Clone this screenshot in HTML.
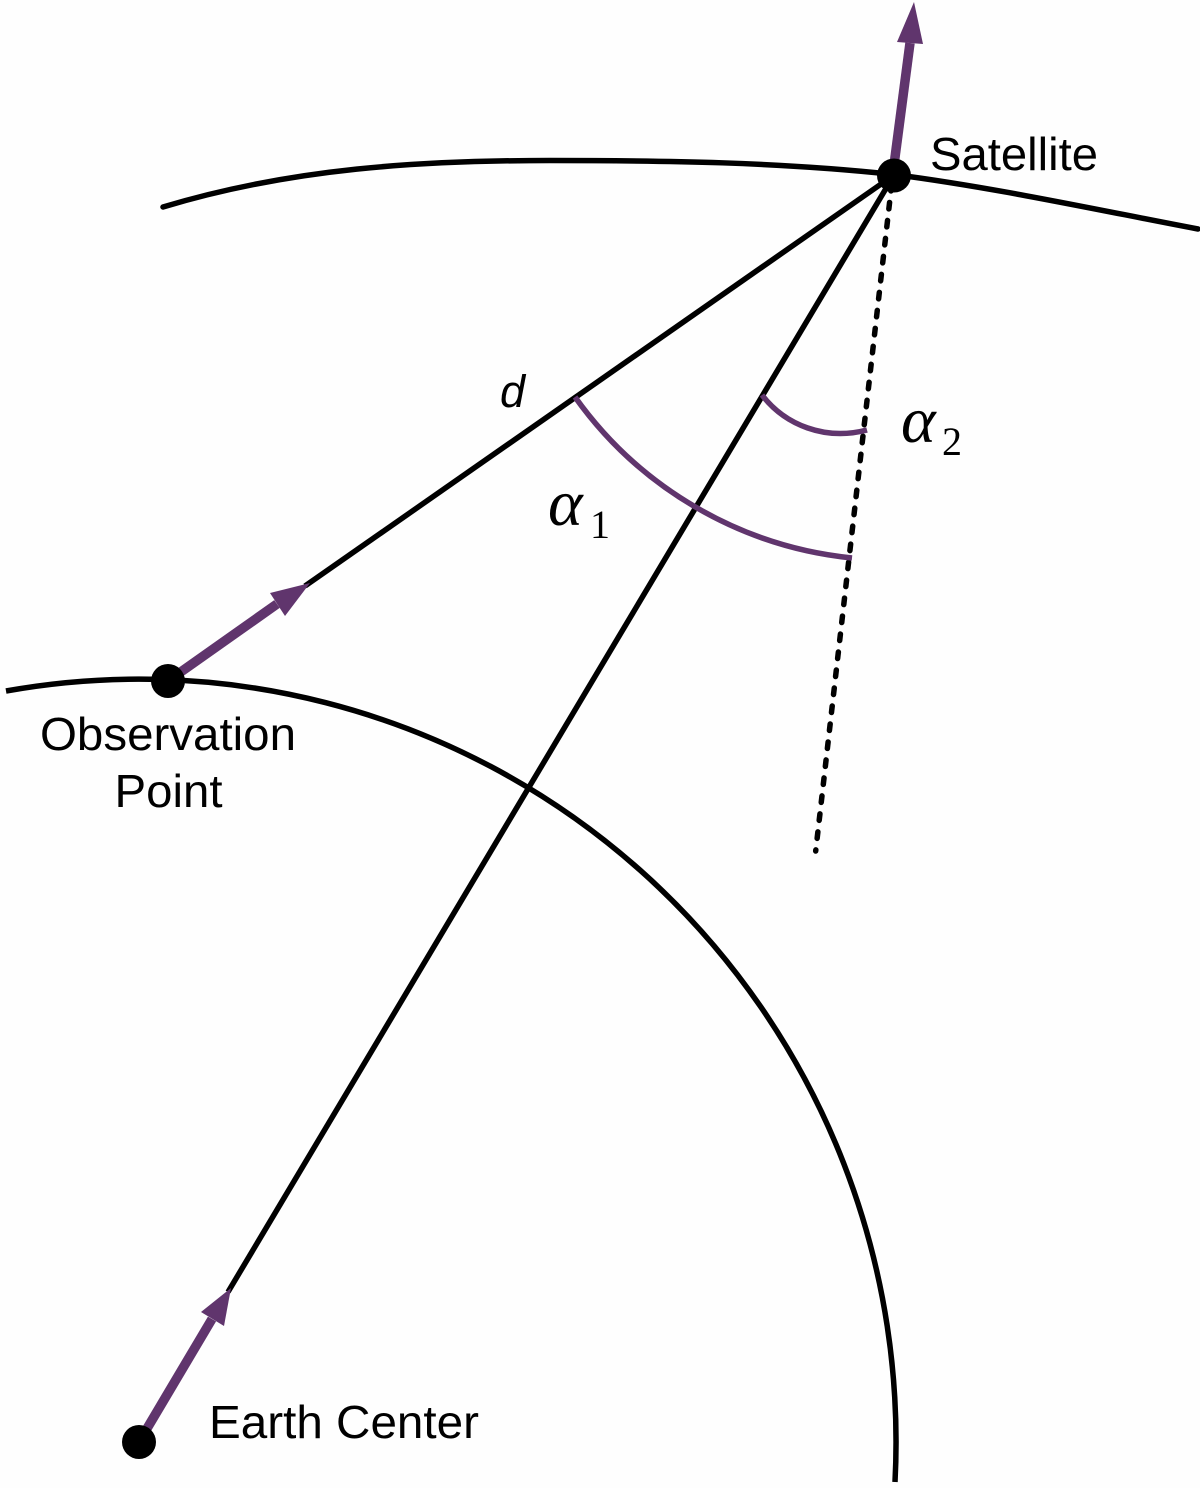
<!DOCTYPE html>
<html>
<head>
<meta charset="utf-8">
<style>
html,body{margin:0;padding:0;background:#fff}
svg{display:block}
text{font-family:"Liberation Sans",sans-serif;fill:#000}
.m{font-family:"Liberation Serif",serif;font-style:italic}
.s{font-family:"Liberation Serif",serif}
</style>
</head>
<body>
<svg width="1200" height="1488" viewBox="0 0 1200 1488" xmlns="http://www.w3.org/2000/svg">
<rect width="1200" height="1488" fill="#fefefe"/>
<g fill="none" stroke="#000">
<path d="M6 691 A757 763 0 0 1 895 1482" stroke-width="5.5"/>
<path d="M163 207 C292 168 421 160.5 550 160.5 C665 160.5 779 162 894 174.5 C995 187.6 1097 209.8 1198 229" stroke-width="5.5" stroke-linecap="round"/>
<path d="M894 175 L305 586" stroke-width="5.5"/>
<path d="M894 175 L228 1292" stroke-width="5.5"/>
<path d="M815.7 851 L891 190" stroke-width="5.5" stroke-linecap="round" stroke-dasharray="6.5 11.6" stroke-dashoffset="5.35"/>
</g>
<g fill="none" stroke="#60356d" stroke-width="5.5">
<path d="M575 397 A388 388 0 0 0 852 558"/>
<path d="M762 395 C785 425 825 441 867 430"/>
</g>
<g stroke="#60356d" stroke-width="9.5" fill="none">
<path d="M894 165 L910 43"/>
<path d="M168 681 L277 604"/>
<path d="M139 1442 L212 1319"/>
</g>
<g fill="#60356d" stroke="none">
<path d="M897 42 L914 2 L923 44 Z"/>
<path d="M270 593 L310 583 L285 616 Z"/>
<path d="M201 1312 L231 1288 L224 1326 Z"/>
</g>
<g fill="#000">
<circle cx="894" cy="175.5" r="17"/>
<circle cx="168" cy="681" r="17"/>
<circle cx="139" cy="1442" r="17"/>
</g>
<text x="930" y="170" font-size="46" textLength="168" lengthAdjust="spacingAndGlyphs">Satellite</text>
<text x="209" y="1438" font-size="46" textLength="270" lengthAdjust="spacingAndGlyphs">Earth Center</text>
<text x="40" y="750" font-size="46" textLength="256" lengthAdjust="spacingAndGlyphs">Observation</text>
<text x="114.5" y="807" font-size="46" textLength="108" lengthAdjust="spacingAndGlyphs">Point</text>
<text x="500" y="407" font-size="45" font-style="italic">d</text>
<text class="m" x="548" y="525" font-size="66">α</text>
<text class="s" x="590" y="538" font-size="40">1</text>
<text class="m" x="901" y="442" font-size="66">α</text>
<text class="s" x="942" y="455" font-size="40">2</text>
</svg>
</body>
</html>
